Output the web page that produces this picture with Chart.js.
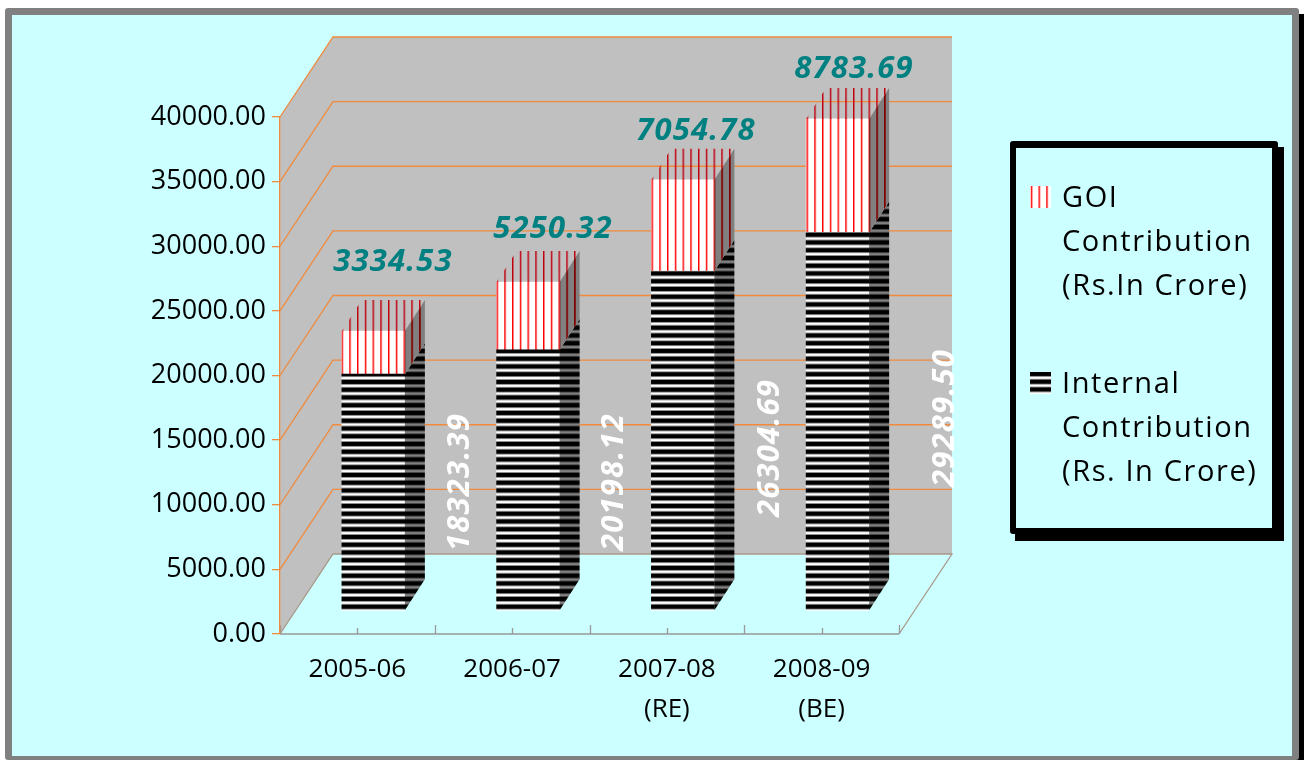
<!DOCTYPE html>
<html>
<head>
<meta charset="utf-8">
<title>Plan contribution</title>
<style>
  body { margin: 0; background: #fff; }
  canvas { display: block; }
</style>
<script src="https://cdn.jsdelivr.net/npm/chart.js@4"></script>
</head>
<body>
<canvas id="contribution" width="1304" height="760"></canvas>
<script>
const years = ['2005-06', '2006-07', ['2007-08', '(RE)'], ['2008-09', '(BE)']];
const internalValues = [18323.39, 20198.12, 26304.69, 29289.50];
const goiValues = [3334.53, 5250.32, 7054.78, 8783.69];
const goiLegend = ['GOI', 'Contribution', '(Rs.In Crore)'];
const internalLegend = ['Internal', 'Contribution', '(Rs. In Crore)'];

// hand placed value labels
const goiLabelAt = [[393, 262], [553, 229], [696, 131], [854, 69]];
const internalLabelAt = [[460, 482], [614, 482], [770, 448], [945, 418]];

const CYAN = '#CCFFFF';
const WALL = '#C0C0C0';
const ORANGE = '#F08A3C';
const EDGE = '#A89888';

// depth of the whole plot, and of a bar inside it
const wallDx = 53, wallDy = 80;
const barShiftX = 16, barShiftY = 23;
const sideDx = 20, sideDy = 31;

function tile(draw) {
  const c = document.createElement('canvas');
  c.width = 8;
  c.height = 8;
  draw(c.getContext('2d'));
  const ctx = document.getElementById('contribution').getContext('2d');
  const p = ctx.createPattern(c, 'repeat');
  // stripes repeat every 7.75px
  p.setTransform(new DOMMatrix().scale(0.96875));
  return p;
}

function hStripes(light, mid) {
  return tile(g => {
    g.fillStyle = light; g.fillRect(0, 0, 8, 8);
    g.fillStyle = '#000'; g.fillRect(0, 0, 8, 4);
    g.fillStyle = mid; g.fillRect(0, 4, 8, 1); g.fillRect(0, 7, 8, 1);
  });
}

function vStripes(bg, strong, soft) {
  return tile(g => {
    if (bg) { g.fillStyle = bg; g.fillRect(0, 0, 8, 8); }
    g.fillStyle = strong; g.fillRect(0, 0, 1, 8);
    g.fillStyle = soft; g.fillRect(1, 0, 1, 8);
  });
}

const blackFront = hStripes('#fff', '#888');
const blackSide = hStripes('#808080', '#444');
const redFront = vStripes('#fff', '#FF0000', '#FF8080');
const redTop = vStripes(null, '#C00010', 'rgba(192,0,16,0.5)');
const redSide = vStripes('#808080', '#800000', '#802020');

function poly(ctx, pts, fill) {
  ctx.beginPath();
  pts.forEach((p, i) => i ? ctx.lineTo(p[0], p[1]) : ctx.moveTo(p[0], p[1]));
  ctx.closePath();
  ctx.fillStyle = fill;
  ctx.fill();
}

const frame = {
  id: 'frame',
  beforeDraw(chart) {
    const ctx = chart.ctx;
    ctx.save();
    ctx.fillStyle = '#000';
    ctx.fillRect(1296, 14, 8, 746);
    ctx.fillStyle = '#808080';
    ctx.beginPath();
    ctx.roundRect(5, 8, 1294, 752, 3);
    ctx.fill();
    ctx.fillStyle = CYAN;
    ctx.fillRect(12, 15, 1280, 741);
    ctx.restore();
  }
};

// back wall, side wall, floor outline and the orange grid
const walls = {
  id: 'walls',
  beforeDraw(chart) {
    const ctx = chart.ctx;
    const a = chart.chartArea;
    const y = chart.scales.y;
    const l = a.left, r = a.right, t = a.top, b = a.bottom;
    ctx.save();
    poly(ctx, [[l + wallDx, t - wallDy], [r + wallDx, t - wallDy], [r + wallDx, b - wallDy], [l + wallDx, b - wallDy]], WALL);
    poly(ctx, [[l, t], [l + wallDx, t - wallDy], [l + wallDx, b - wallDy], [l, b]], WALL);

    ctx.lineWidth = 1.3;
    ctx.strokeStyle = ORANGE;
    y.ticks.forEach(tk => {
      if (tk.value === 0) return;
      const py = y.getPixelForValue(tk.value);
      ctx.beginPath();
      ctx.moveTo(l, py);
      ctx.lineTo(l + wallDx, py - wallDy);
      ctx.lineTo(r + wallDx, py - wallDy);
      ctx.stroke();
    });

    ctx.strokeStyle = EDGE;
    ctx.beginPath();
    ctx.moveTo(l, b);
    ctx.lineTo(l + wallDx, b - wallDy);
    ctx.lineTo(r + wallDx, b - wallDy);
    ctx.lineTo(r, b);
    ctx.stroke();

    // x axis line with long ticks at category edges, short at centres
    ctx.strokeStyle = '#999';
    ctx.beginPath();
    ctx.moveTo(l, b);
    ctx.lineTo(r, b);
    const step = (r - l) / years.length;
    for (let i = 0; i <= years.length * 2; i++) {
      const px = Math.round(l + i * step / 2) + 0.5;
      ctx.moveTo(px, b);
      ctx.lineTo(px, b - (i % 2 ? 6 : 9));
    }
    ctx.stroke();
    ctx.restore();
  }
};

// bars sit further back than the axis plane, sides and tops are added here
const depth = {
  id: 'depth',
  beforeDatasetsDraw(chart) {
    chart.ctx.save();
    chart.ctx.translate(barShiftX, -barShiftY);
  },
  afterDatasetsDraw(chart) {
    const ctx = chart.ctx;
    const lower = chart.getDatasetMeta(0).data;
    const upper = chart.getDatasetMeta(1).data;
    lower.forEach((bar, i) => {
      const top = upper[i];
      const x0 = bar.x - bar.width / 2;
      const x1 = bar.x + bar.width / 2;
      poly(ctx, [[x1, bar.base], [x1 + sideDx, bar.base - sideDy], [x1 + sideDx, bar.y - sideDy], [x1, bar.y]], blackSide);
      poly(ctx, [[x1, bar.y], [x1 + sideDx, bar.y - sideDy], [x1 + sideDx, top.y - sideDy], [x1, top.y]], redSide);
      poly(ctx, [[x0, top.y], [x0 + sideDx, top.y - sideDy], [x1 + sideDx, top.y - sideDy], [x1, top.y]], redTop);
    });
    ctx.restore();
  }
};

const valueLabels = {
  id: 'valueLabels',
  afterDraw(chart) {
    const ctx = chart.ctx;
    ctx.save();
    ctx.textAlign = 'center';
    ctx.textBaseline = 'middle';
    ctx.font = 'italic bold 31px "Open Sans"';
    ctx.letterSpacing = '1.2px';
    ctx.fillStyle = '#008080';
    goiValues.forEach((v, i) => {
      ctx.fillText(v.toFixed(2), goiLabelAt[i][0], goiLabelAt[i][1]);
    });
    ctx.fillStyle = '#fff';
    internalValues.forEach((v, i) => {
      ctx.save();
      ctx.translate(internalLabelAt[i][0], internalLabelAt[i][1]);
      ctx.rotate(-Math.PI / 2);
      ctx.fillText(v.toFixed(2), 0, 0);
      ctx.restore();
    });
    ctx.restore();
  }
};

const legendBox = {
  id: 'legendBox',
  afterDraw(chart) {
    const ctx = chart.ctx;
    ctx.save();
    ctx.fillStyle = '#000';
    ctx.fillRect(1015, 147, 269, 394);
    ctx.beginPath();
    ctx.roundRect(1010, 141, 268, 393, 3);
    ctx.fill();
    ctx.fillStyle = CYAN;
    ctx.fillRect(1016, 148, 256, 380);

    ctx.fillStyle = redFront;
    ctx.fillRect(1030, 186, 21, 22);
    ctx.fillStyle = blackFront;
    ctx.fillRect(1030, 372, 21, 22);

    ctx.fillStyle = '#000';
    ctx.font = '29px "Open Sans"';
    ctx.letterSpacing = '1.6px';
    ctx.textBaseline = 'middle';
    goiLegend.forEach((t, i) => ctx.fillText(t, 1062, 199 + i * 44));
    internalLegend.forEach((t, i) => ctx.fillText(t, 1062, 385 + i * 44));
    ctx.restore();
  }
};

new Chart(document.getElementById('contribution'), {
  type: 'bar',
  data: {
    labels: years,
    datasets: [
      { label: 'Internal Contribution (Rs. In Crore)', data: internalValues, backgroundColor: blackFront, clip: false },
      { label: 'GOI Contribution (Rs.In Crore)', data: goiValues, backgroundColor: redFront, clip: false }
    ]
  },
  plugins: [frame, walls, depth, valueLabels, legendBox],
  options: {
    responsive: false,
    animation: false,
    barThickness: 63,
    layout: { padding: { left: 150, right: 405, top: 117, bottom: 0 } },
    plugins: {
      legend: { display: false },
      tooltip: { enabled: false }
    },
    scales: {
      x: {
        stacked: true,
        afterFit: s => { s.height = 126; },
        grid: { display: false },
        border: { display: false },
        ticks: {
          color: '#000',
          padding: 8,
          autoSkip: false,
          maxRotation: 0,
          font: { family: 'Open Sans', size: 26, lineHeight: 1.54 }
        }
      },
      y: {
        stacked: true,
        min: 0,
        max: 40000,
        afterFit: s => { s.width = 130; },
        grid: { drawOnChartArea: false, color: ORANGE, tickLength: 8, lineWidth: 1.3 },
        border: { color: ORANGE, width: 1.3 },
        ticks: {
          stepSize: 5000,
          color: '#000',
          padding: 6,
          font: { family: 'Open Sans', size: 27 },
          callback: v => v.toFixed(2)
        }
      }
    }
  }
});
</script>
</body>
</html>
